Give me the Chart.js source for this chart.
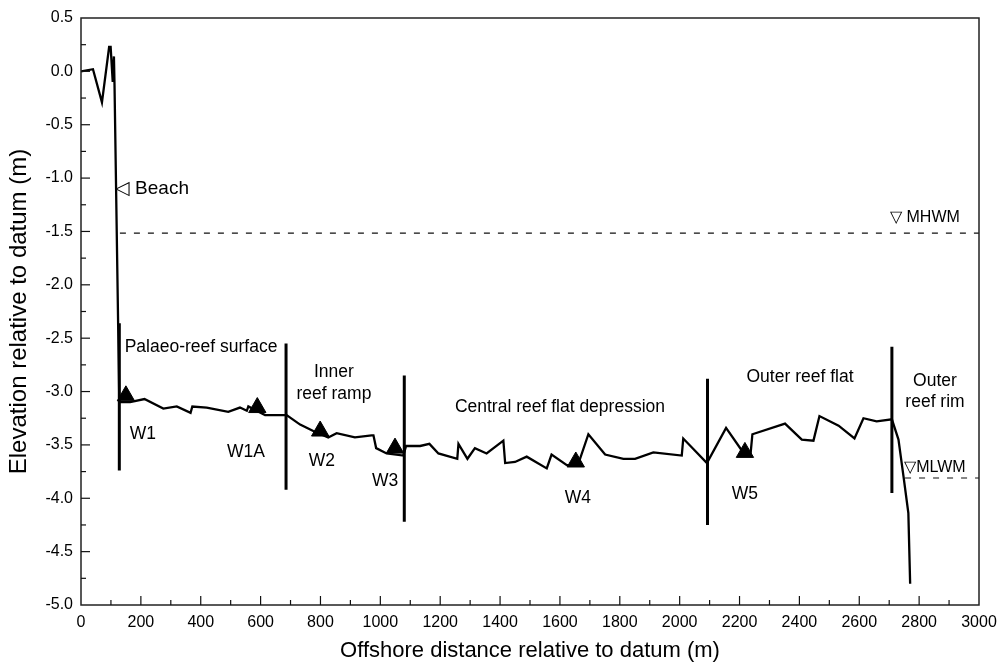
<!DOCTYPE html>
<html>
<head>
<meta charset="utf-8">
<script src="https://cdn.jsdelivr.net/npm/chart.js@4/dist/chart.umd.min.js"></script>
<style>
html,body{margin:0;padding:0;background:#fff;}
#wrap{width:1000px;height:667px;position:relative;}
</style>
</head>
<body>
<div id="wrap"><canvas id="c" width="1000" height="667"></canvas></div>
<script>
// ---- data ----
const profileX = [0,40,70,94,99,106,110,112,128,164,212,275,320,366,372,420,492,531,554,559,615,687,732,776,826,854,915,971,977,986,1021,1077,1086,1133,1164,1194,1257,1261,1291,1316,1355,1411,1417,1450,1489,1556,1572,1623,1660,1695,1751,1812,1851,1912,2007,2012,2091,2155,2207,2237,2243,2352,2408,2447,2467,2531,2584,2614,2658,2709,2731,2748,2764,2770];
const profileY = [0.0,0.02,-0.29,0.23,0.23,-0.10,0.14,-0.13,-3.10,-3.10,-3.07,-3.16,-3.14,-3.20,-3.14,-3.15,-3.19,-3.15,-3.18,-3.14,-3.22,-3.22,-3.31,-3.37,-3.43,-3.39,-3.43,-3.41,-3.41,-3.53,-3.58,-3.60,-3.51,-3.51,-3.49,-3.58,-3.63,-3.49,-3.63,-3.53,-3.58,-3.46,-3.67,-3.66,-3.61,-3.72,-3.59,-3.69,-3.69,-3.40,-3.59,-3.63,-3.63,-3.57,-3.60,-3.44,-3.67,-3.34,-3.55,-3.58,-3.40,-3.30,-3.45,-3.46,-3.23,-3.32,-3.44,-3.25,-3.28,-3.26,-3.45,-3.80,-4.14,-4.80];

const wellNames = ["W1","W1A","W2","W3","W4","W5"];
const wellX = [150,589,799,1049,1653,2218];
const wellY = [-3.04,-3.15,-3.37,-3.53,-3.66,-3.57];

const dividerX = [128,685,1080,2093,2709];
const dividerTop = [-2.36,-2.55,-2.85,-2.88,-2.58];
const dividerBottom = [-3.74,-3.92,-4.22,-4.25,-3.95];

const mhwmLevel = -1.515;
const mhwmRange = [130,3000];
const mlwmLevel = -3.81;
const mlwmRange = [2753,3000];

const xTickLabels = [0,200,400,600,800,1000,1200,1400,1600,1800,2000,2200,2400,2600,2800,3000];
const yTickLabels = [0.5,0.0,-0.5,-1.0,-1.5,-2.0,-2.5,-3.0,-3.5,-4.0,-4.5,-5.0];

// ---- text annotations (data coordinates) ----
const wellLabelPos = [[207,-3.40],[551,-3.57],[805,-3.65],[1016,-3.84],[1660,-4.00],[2218,-3.96]];
const zoneLabels = [
  {t:"Palaeo-reef surface", x:401, y:-2.58},
  {t:"Inner", x:845, y:-2.82},
  {t:"reef ramp", x:845, y:-3.02},
  {t:"Central reef flat depression", x:1600, y:-3.15},
  {t:"Outer reef flat", x:2402, y:-2.87},
  {t:"Outer", x:2853, y:-2.90},
  {t:"reef rim", x:2853, y:-3.10}
];
const markerLabels = [
  {t:"\u25C1 Beach", x:113, y:-1.10, size:19},
  {t:"\u25BD MHWM", x:2703, y:-1.37, size:16},
  {t:"\u25BDMLWM", x:2750, y:-3.71, size:16}
];

const FONT = "'Liberation Sans', Arial, sans-serif";

const datasets = [];
datasets.push({
  data: profileX.map((x,i)=>({x:x,y:profileY[i]})),
  showLine:true, borderColor:'#000', borderWidth:2.3, pointRadius:0, tension:0,
  borderJoinStyle:'miter'
});
dividerX.forEach((x,i)=>{
  datasets.push({
    data:[{x:x,y:dividerTop[i]},{x:x,y:dividerBottom[i]}],
    showLine:true, borderColor:'#000', borderWidth:3, pointRadius:0
  });
});
datasets.push({
  data:[{x:mhwmRange[0],y:mhwmLevel},{x:mhwmRange[1],y:mhwmLevel}],
  showLine:true, borderColor:'#111', borderWidth:1.2, borderDash:[6,8], pointRadius:0
});
datasets.push({
  data:[{x:mlwmRange[0],y:mlwmLevel},{x:mlwmRange[1],y:mlwmLevel}],
  showLine:true, borderColor:'#111', borderWidth:1.2, borderDash:[6,8], pointRadius:0
});
datasets.push({
  data: wellX.map((x,i)=>({x:x,y:wellY[i]})),
  showLine:false, pointStyle:'triangle', pointRadius:10, backgroundColor:'#000', borderColor:'#000', borderWidth:1
});

const decor = {
  id:'decor',
  afterDatasetsDraw(chart){
    const ctx = chart.ctx, xs = chart.scales.x, ys = chart.scales.y, a = chart.chartArea;
    ctx.save();
    // frame
    ctx.strokeStyle = '#222'; ctx.lineWidth = 1.5;
    ctx.strokeRect(a.left, a.top, a.right-a.left, a.bottom-a.top);
    // inward ticks
    ctx.lineWidth = 1.2; ctx.strokeStyle = '#111';
    for (let v=100; v<3000; v+=100){
      const px = xs.getPixelForValue(v);
      const len = (v%200===0)?9:5;
      ctx.beginPath(); ctx.moveTo(px,a.bottom); ctx.lineTo(px,a.bottom-len); ctx.stroke();
    }
    for (let k=1; k<22; k++){
      const v = -5 + k*0.25;
      const py = ys.getPixelForValue(v);
      const len = (k%2===0)?9:5;
      ctx.beginPath(); ctx.moveTo(a.left,py); ctx.lineTo(a.left+len,py); ctx.stroke();
    }
    // texts
    ctx.fillStyle = '#000';
    ctx.textBaseline = 'middle';
    ctx.textAlign = 'center';
    ctx.font = "17.5px " + FONT;
    wellNames.forEach((n,i)=>{
      ctx.fillText(n, xs.getPixelForValue(wellLabelPos[i][0]), ys.getPixelForValue(wellLabelPos[i][1]));
    });
    zoneLabels.forEach(z=>{
      ctx.fillText(z.t, xs.getPixelForValue(z.x), ys.getPixelForValue(z.y));
    });
    ctx.textAlign = 'left';
    markerLabels.forEach(m=>{
      ctx.font = m.size + "px " + FONT;
      ctx.fillText(m.t, xs.getPixelForValue(m.x), ys.getPixelForValue(m.y));
    });
    ctx.restore();
  }
};

new Chart(document.getElementById('c'), {
  type:'scatter',
  data:{datasets:datasets},
  plugins:[decor],
  options:{
    responsive:false, animation:false, devicePixelRatio:1,
    layout:{padding:{left:0, top:18, right:21, bottom:0}},
    plugins:{legend:{display:false}, tooltip:{enabled:false}},
    scales:{
      x:{
        type:'linear', min:0, max:3000,
        afterBuildTicks(s){ s.ticks = xTickLabels.map(v=>({value:v})); },
        afterFit(s){ s.height = 62; s.paddingLeft = 0; s.paddingRight = 0; },
        grid:{display:false, drawTicks:false},
        border:{display:false},
        ticks:{color:'#000', padding:8, maxRotation:0, autoSkip:false, font:{family:FONT, size:16},
               callback:(v)=>String(v)},
        title:{display:true, text:'Offshore distance relative to datum (m)', color:'#000',
               font:{family:FONT, size:22}, padding:3}
      },
      y:{
        type:'linear', min:-5, max:0.5,
        afterBuildTicks(s){ s.ticks = yTickLabels.map(v=>({value:v})); },
        afterFit(s){ s.width = 81; s.paddingTop = 0; s.paddingBottom = 0; },
        grid:{display:false, drawTicks:false},
        border:{display:false},
        ticks:{color:'#000', padding:8, autoSkip:false, font:{family:FONT, size:16},
               callback:(v)=>Number(v).toFixed(1)},
        title:{display:true, text:'Elevation relative to datum (m)', color:'#000',
               font:{family:FONT, size:24}, padding:5}
      }
    }
  }
});
</script>
</body>
</html>
